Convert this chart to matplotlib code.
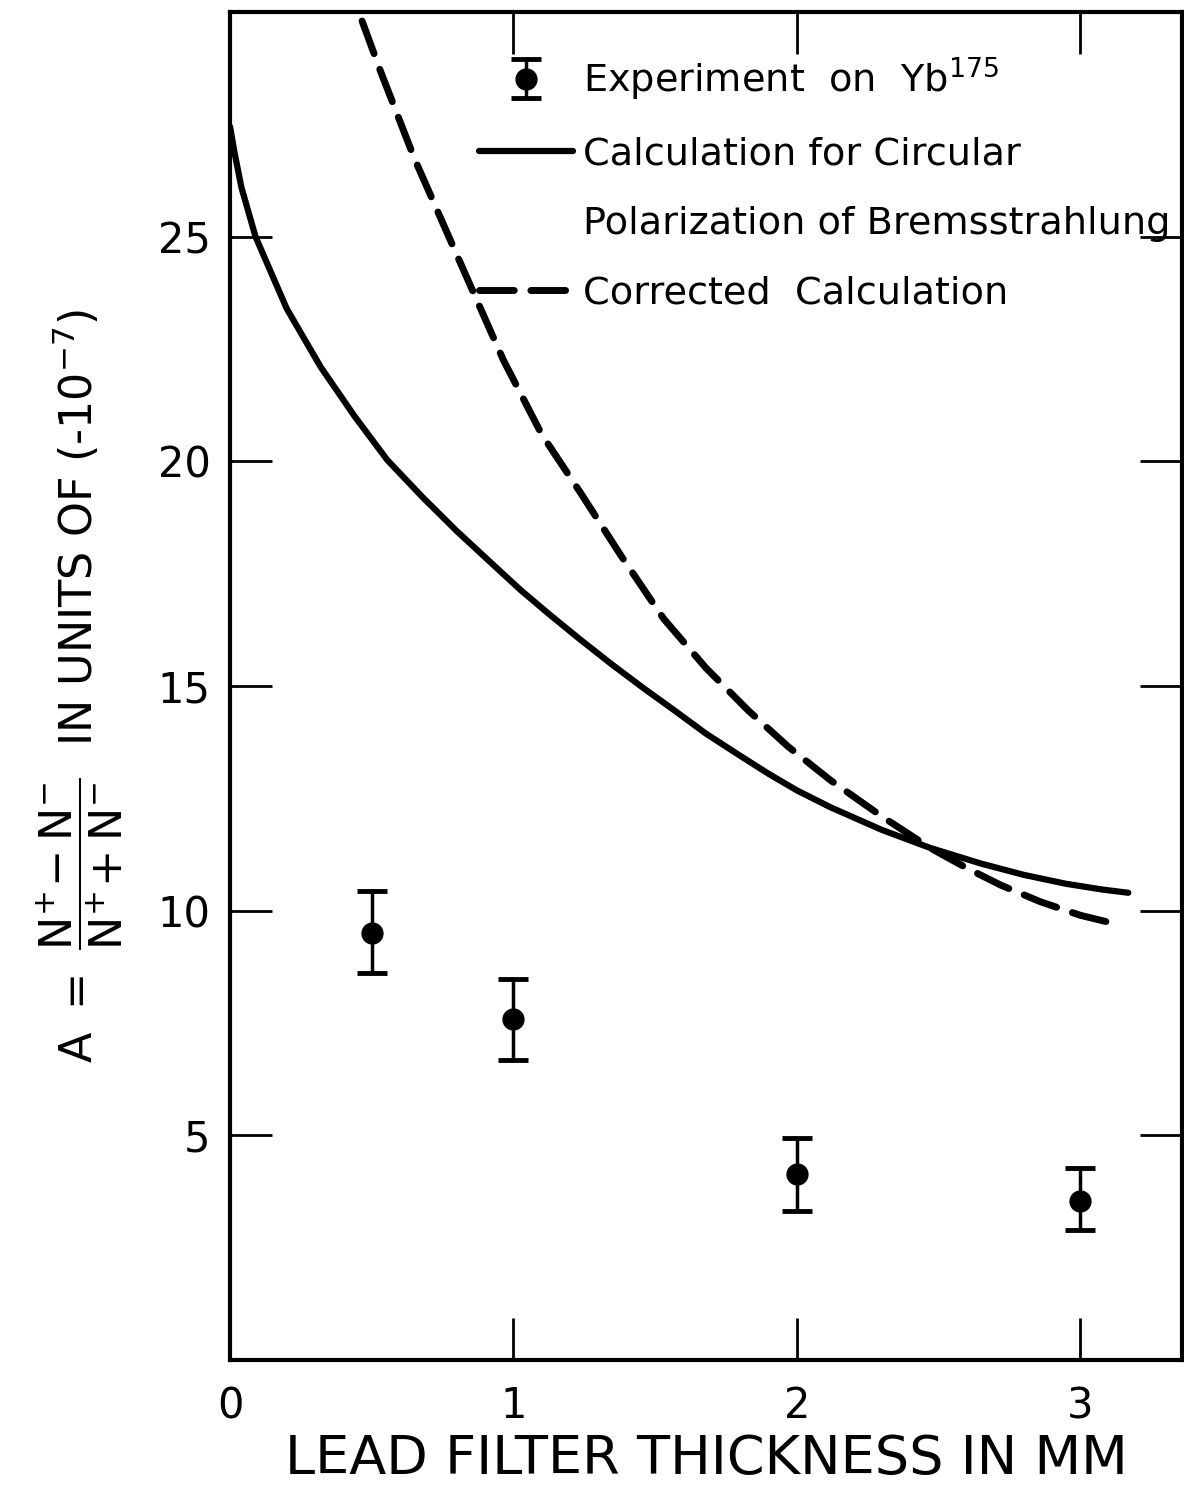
import matplotlib
matplotlib.use("Agg")
import matplotlib.pyplot as plt
from matplotlib.lines import Line2D

plt.rcParams['font.family'] = ['DejaVu Sans']
plt.rcParams['mathtext.fontset'] = 'dejavusans'

# measured points (Yb175)
exp_x = [0.5, 1.0, 2.0, 3.0]
exp_y = [9.5, 7.6, 4.15, 3.55]
exp_lo = [0.88, 0.92, 0.83, 0.65]
exp_hi = [0.95, 0.88, 0.80, 0.72]

# calculation for circular polarization of bremsstrahlung
calc_x = [0.0, 0.015, 0.04, 0.09, 0.2, 0.32, 0.44, 0.555, 0.68, 0.8, 0.92, 1.025, 1.13, 1.237,
          1.35, 1.46, 1.57, 1.68, 1.8, 1.9, 2.0, 2.12, 2.3, 2.47, 2.65, 2.8, 2.95, 3.08, 3.17]
calc_y = [27.45, 26.9, 26.1, 25.0, 23.4, 22.1, 21.0, 20.03, 19.2, 18.45, 17.75, 17.14, 16.58, 16.03,
          15.47, 14.95, 14.45, 13.94, 13.45, 13.05, 12.68, 12.3, 11.8, 11.4, 11.05, 10.8, 10.6,
          10.47, 10.4]

# corrected calculation
corr_x = [0.466, 0.53, 0.65, 0.8, 0.965, 1.1, 1.237, 1.38, 1.53, 1.68, 1.83, 1.97,
          2.12, 2.3, 2.47, 2.6, 2.72, 2.86, 3.0, 3.11]
corr_y = [29.8, 28.7, 26.75, 24.6, 22.25, 20.6, 19.3, 17.9, 16.5, 15.4, 14.45, 13.65,
          12.9, 12.1, 11.4, 10.95, 10.57, 10.2, 9.9, 9.73]

xticks = [0, 1, 2, 3]
yticks = [5, 10, 15, 20, 25]

fig = plt.figure(figsize=(11.84, 14.9), dpi=100)
ax = fig.add_axes([0.1943, 0.0872, 0.8041, 0.9047])

ax.errorbar(exp_x, exp_y, yerr=[exp_lo, exp_hi], fmt='o', color='black',
            markersize=15, elinewidth=2.5, capsize=11, capthick=3.5,
            label=r'Experiment  on  Yb$^{175}$')
ax.plot(calc_x, calc_y, color='black', lw=4.5, solid_capstyle='round',
        label='Calculation for Circular')
ax.plot(corr_x, corr_y, color='black', lw=5, linestyle=(0, (5, 2.4)),
        dash_capstyle='round', label='Corrected  Calculation')

# second line of the solid-curve label gets its own empty row
handles, labels = ax.get_legend_handles_labels()
blank = Line2D([], [], color='none')
hs = [handles[2], handles[0], blank, handles[1]]
ls = [labels[2], labels[0], 'Polarization of Bremsstrahlung', labels[1]]
ax.legend(hs, ls, loc='upper left', bbox_to_anchor=(0.262, 0.968), frameon=False,
          fontsize=27.5, handlelength=2.45, handletextpad=0.25, borderpad=0,
          borderaxespad=0, labelspacing=0.88)

ax.set_xlim(0, 3.36)
ax.set_ylim(0, 30)
ax.set_xticks(xticks)
ax.set_yticks(yticks)
ax.tick_params(direction='in', length=30, width=2, labelsize=30,
               top=True, right=True, labeltop=False, labelright=False)
ax.tick_params(axis='x', pad=18)
ax.tick_params(axis='y', pad=14)
for s in ax.spines.values():
    s.set_linewidth(3)

ax.set_xlabel('LEAD FILTER THICKNESS IN MM', fontsize=39, labelpad=4)
ax.set_ylabel(r'$\mathrm{A}\ =\ \dfrac{\mathrm{N}^{+}\!-\mathrm{N}^{-}}{\mathrm{N}^{+}\!+\mathrm{N}^{-}}$'
              r'  IN UNITS OF (-10$^{-7}$)', fontsize=32)
ax.yaxis.set_label_coords(-0.11, 0.5)

fig.savefig('out.png', dpi=100)
